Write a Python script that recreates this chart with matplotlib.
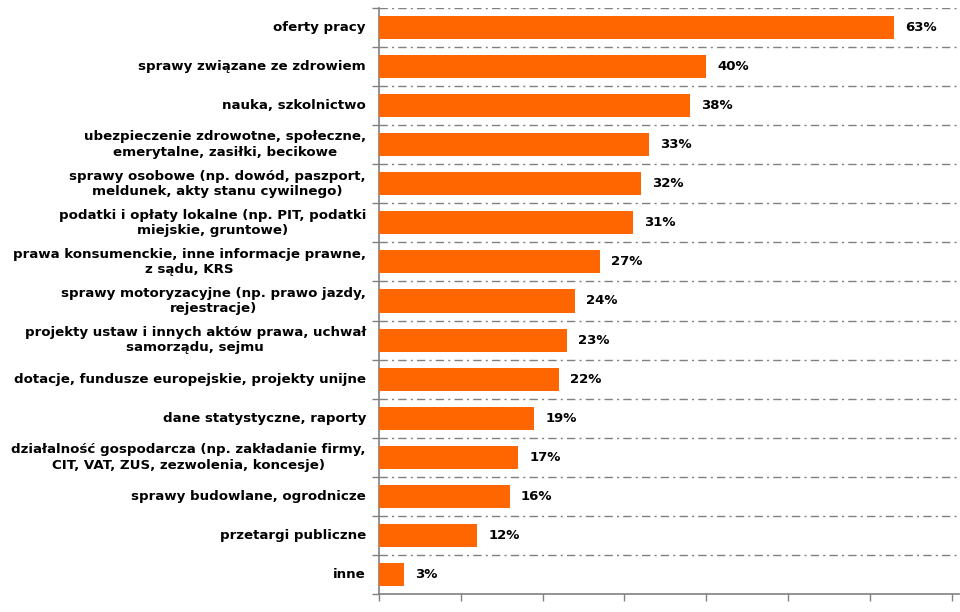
import matplotlib
matplotlib.use("Agg")
import matplotlib.pyplot as plt
import numpy as np

categories = [
    "oferty pracy",
    "sprawy związane ze zdrowiem",
    "nauka, szkolnictwo",
    "ubezpieczenie zdrowotne, społeczne,\nemerytalne, zasiłki, becikowe",
    "sprawy osobowe (np. dowód, paszport,\nmeldunek, akty stanu cywilnego)",
    "podatki i opłaty lokalne (np. PIT, podatki\nmiejskie, gruntowe)",
    "prawa konsumenckie, inne informacje prawne,\nz sądu, KRS",
    "sprawy motoryzacyjne (np. prawo jazdy,\nrejestracje)",
    "projekty ustaw i innych aktów prawa, uchwał\nsamorządu, sejmu",
    "dotacje, fundusze europejskie, projekty unijne",
    "dane statystyczne, raporty",
    "działalność gospodarcza (np. zakładanie firmy,\nCIT, VAT, ZUS, zezwolenia, koncesje)",
    "sprawy budowlane, ogrodnicze",
    "przetargi publiczne",
    "inne",
]
values = [63, 40, 38, 33, 32, 31, 27, 24, 23, 22, 19, 17, 16, 12, 3]
xticks = [0, 10, 20, 30, 40, 50, 60, 70]

fig = plt.figure(figsize=(9.6, 6.12), dpi=100)
W, H = 960, 612
left, right, top, bottom = 379, 959, 8, 594
ax = fig.add_axes([left / W, 1 - bottom / H, (right - left) / W, (bottom - top) / H])

n = len(categories)
y = np.arange(n)
ax.barh(y, values, height=0.59, color="#FF6600", zorder=3)
ax.set_ylim(n - 0.5, -0.5)
ax.set_xlim(0, 70.9)

# dash-dot gridlines between categories
for b in np.arange(-0.5, n - 0.5, 1.0):
    ax.axhline(b, color="#808080", lw=1.0, linestyle=(0, (6, 3, 1.5, 3)), zorder=1)

ax.set_yticks(np.arange(-0.5, n, 1.0))
ax.set_yticklabels([])
ax.tick_params(axis="y", length=5, width=1, color="#808080", direction="out")
ax.set_xticks(xticks)
ax.set_xticklabels([])
ax.tick_params(axis="x", length=5, width=1, color="#808080", direction="out")

for s in ["top", "right"]:
    ax.spines[s].set_visible(False)
for s in ["left", "bottom"]:
    ax.spines[s].set_color("#808080")
    ax.spines[s].set_linewidth(1.2)

for i, (c, v) in enumerate(zip(categories, values)):
    ax.text(-1.6, i, c, ha="right", va="center", multialignment="center",
            fontsize=9.65, fontweight="bold", color="#000000", linespacing=1.25,
            family="DejaVu Sans")
    ax.text(v + 1.35, i, f"{v}%", ha="left", va="center", fontsize=9.5,
            fontweight="bold", color="#000000", family="DejaVu Sans")

fig.savefig("out.png", dpi=100, facecolor="white")
